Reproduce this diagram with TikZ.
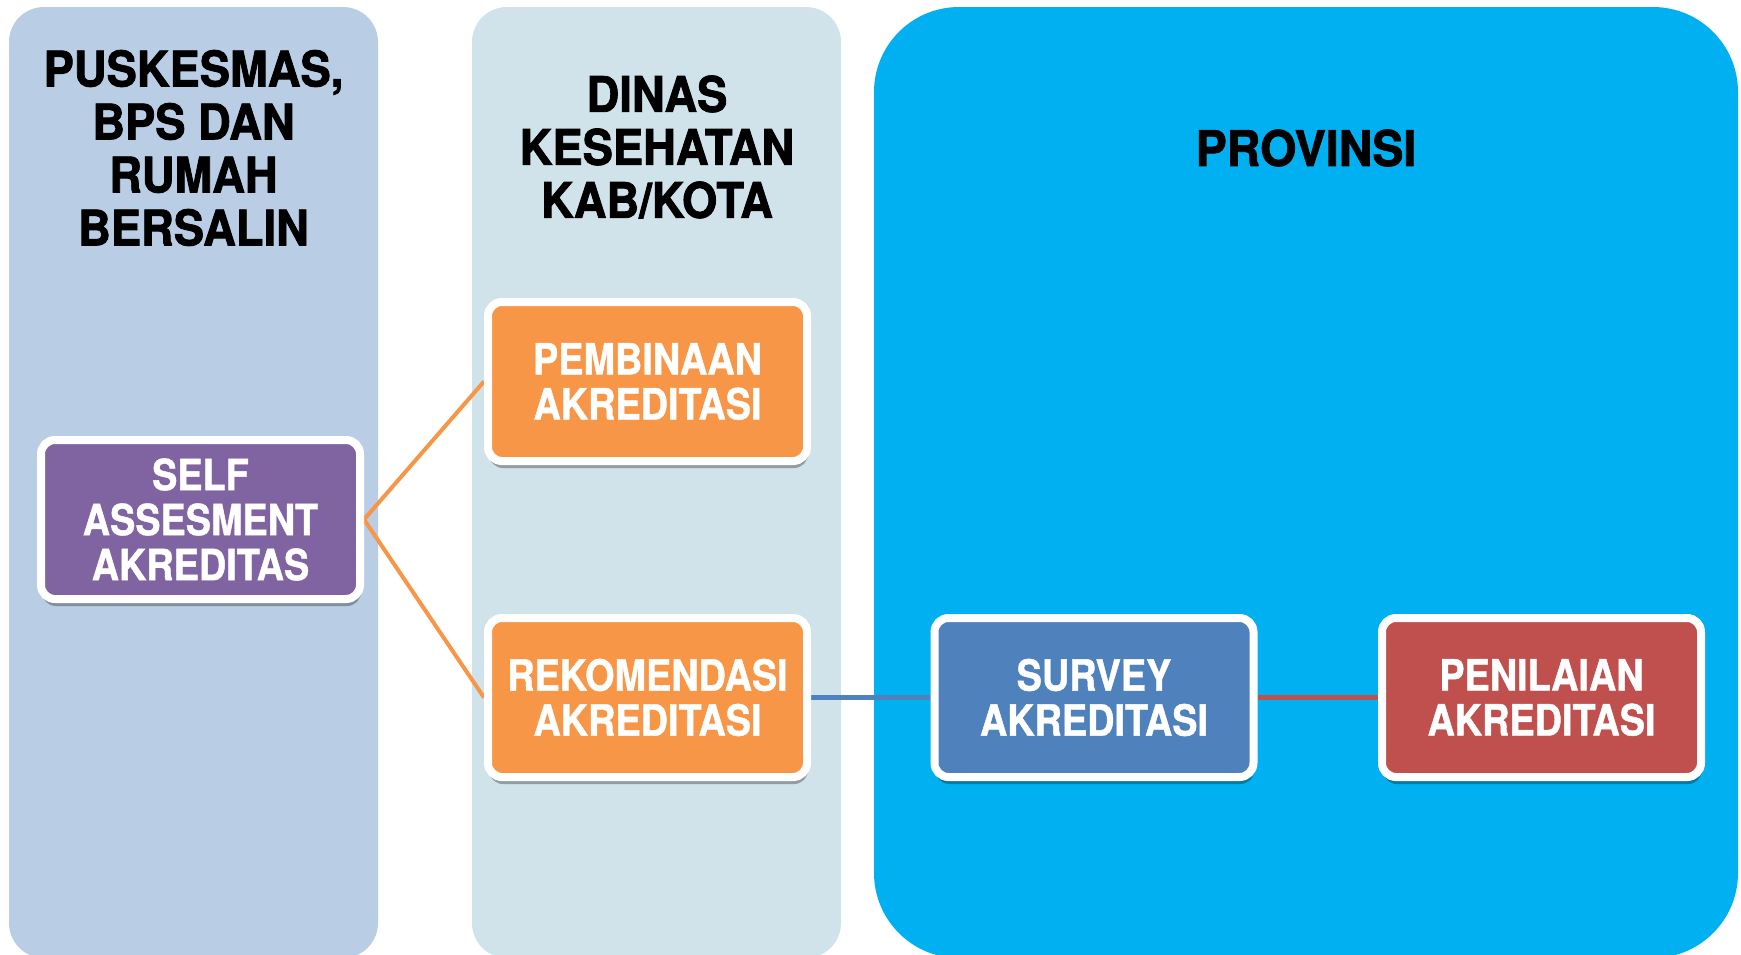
\documentclass[tikz,border=0pt]{standalone}
\usepackage{fontspec}
\newfontfamily\hfont{TeX Gyre Heros}[FakeStretch=0.925,FakeBold=1.6]
\newfontfamily\bfont{TeX Gyre Heros}[FakeStretch=0.88,FakeBold=1]
\newfontfamily\pfont{TeX Gyre Heros}[FakeStretch=0.95,FakeBold=1.6]
\usetikzlibrary{shadows}
\definecolor{colA}{HTML}{B9CDE5}
\definecolor{colB}{HTML}{D0E2EA}
\definecolor{colC}{HTML}{00B0F0}
\definecolor{purp}{HTML}{8064A2}
\definecolor{oran}{HTML}{F79646}
\definecolor{blu}{HTML}{4F81BD}
\definecolor{redd}{HTML}{C0504D}
\pgfdeclarelayer{cols}
\pgfdeclarelayer{conn}
\pgfsetlayers{cols,conn,main}
\begin{document}
\begin{tikzpicture}[x=1pt,y=-1pt,
  head/.style={font=\hfont\bfseries\fontsize{49}{53}\selectfont, align=center, text=black, inner sep=0pt},
  box/.style={draw=white, line width=8pt, rounded corners=14pt, minimum width=319pt, minimum height=159pt,
    inner sep=0pt, align=center, text=white, font=\bfont\bfseries\fontsize{43}{45}\selectfont,
    drop shadow={shadow xshift=1pt, shadow yshift=-7pt, fill=black, opacity=0.3}},
  link/.style={line width=4pt}]
\useasboundingbox (0,0) rectangle (1741,954);

\node[box, fill=purp] (self) at (200.5,519.5) {SELF\\ASSESMENT\\AKREDITAS};
\node[box, fill=oran] (pemb) at (647.5,381.5) {PEMBINAAN\\AKREDITASI};
\node[box, fill=oran] (rekom) at (647.5,697.5) {REKOMENDASI\\AKREDITASI};
\node[box, fill=blu] (surv) at (1094,697.5) {SURVEY\\AKREDITASI};
\node[box, fill=redd] (peni) at (1541.5,697.5) {PENILAIAN\\AKREDITASI};

\node[head] (h1) at (193.5,148) {PUSKESMAS,\\BPS DAN\\RUMAH\\BERSALIN};
\node[head] (h2) at (657,147) {DINAS\\KESEHATAN\\KAB/KOTA};
\node[head, font=\pfont\bfseries\fontsize{49}{53}\selectfont] (h3) at (1306,148) {PROVINSI};

\begin{pgfonlayer}{cols}
\fill[colA, rounded corners=35pt] (9,7) rectangle (378,958);
\fill[colB, rounded corners=35pt] (472,7) rectangle (841,958);
\fill[colC, rounded corners=85pt] (874,7) rectangle (1738,958);
\end{pgfonlayer}

\begin{pgfonlayer}{conn}
\draw[oran, link] (self.east) -- (pemb.west);
\draw[oran, link] (self.east) -- (rekom.west);
\draw[blu, link, line width=5pt] (rekom.east) -- (surv.west);
\draw[redd, link, line width=5pt] (surv.east) -- (peni.west);
\end{pgfonlayer}
\end{tikzpicture}
\end{document}
